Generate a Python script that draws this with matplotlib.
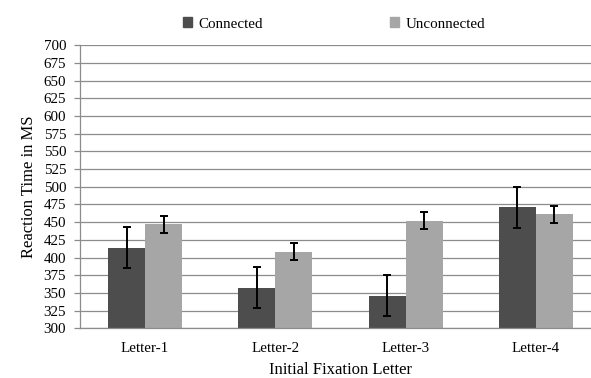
import numpy as np
import matplotlib
matplotlib.use('Agg')
from matplotlib import pyplot as plt
from matplotlib.patches import Patch

plt.rcParams['font.family'] = ['Liberation Serif', 'DejaVu Serif']

# data
letters = ['Letter-1', 'Letter-2', 'Letter-3', 'Letter-4']
connected = [414, 357, 346, 471]
connected_err = [29, 29, 29, 29]
unconnected = [447, 408, 452, 461]
unconnected_err = [12, 12, 12, 12]
yticks = np.arange(300, 701, 25)

dark = '#4d4d4d'
light = '#a6a6a6'

fig = plt.figure(figsize=(5.91, 3.78), dpi=100)
ax = fig.add_axes([80/591, 1 - 328.3/378, 521/591, 283/378])

x = np.arange(len(letters))
w = 0.284
ax.bar(x - w/2, connected, w, color=dark, zorder=2)
ax.bar(x + w/2, unconnected, w, color=light, zorder=2)
ax.errorbar(x - w/2, connected, yerr=connected_err, fmt='none', ecolor='black',
            elinewidth=1.4, capsize=3, capthick=1.4, zorder=3)
ax.errorbar(x + w/2, unconnected, yerr=unconnected_err, fmt='none', ecolor='black',
            elinewidth=1.4, capsize=3, capthick=1.4, zorder=3)

ax.set_xlim(-0.5, len(letters) - 0.5)
ax.set_ylim(300, 700)
ax.set_yticks(yticks)
ax.set_xticks(x)
ax.set_xticklabels(letters)
ax.yaxis.grid(True, color='#8c8c8c', lw=0.9, zorder=0)
ax.set_axisbelow(True)

for s in ['top', 'right']:
    ax.spines[s].set_visible(False)
for s in ['left', 'bottom']:
    ax.spines[s].set_color('#8c8c8c')
    ax.spines[s].set_linewidth(0.9)

ax.tick_params(axis='y', length=4, color='#8c8c8c', width=0.9, pad=6, labelsize=10.8)
ax.tick_params(axis='x', length=0, pad=10, labelsize=10.8)

ax.set_ylabel('Reaction Time in MS', fontsize=12, labelpad=5)
ax.set_xlabel('Initial Fixation Letter', fontsize=12, va='center')
ax.xaxis.set_label_coords(0.5, (328.3 - 370.5) / 283)

handles = [Patch(color=dark), Patch(color=light)]
fig.legend(handles, ['Connected', 'Unconnected'], ncol=2, loc='center',
           bbox_to_anchor=(334/591, 1 - 24/378), frameon=False, fontsize=10.8,
           handlelength=0.6, handleheight=0.6, handletextpad=0.4, columnspacing=8.5)

fig.savefig('out.png', dpi=100)
